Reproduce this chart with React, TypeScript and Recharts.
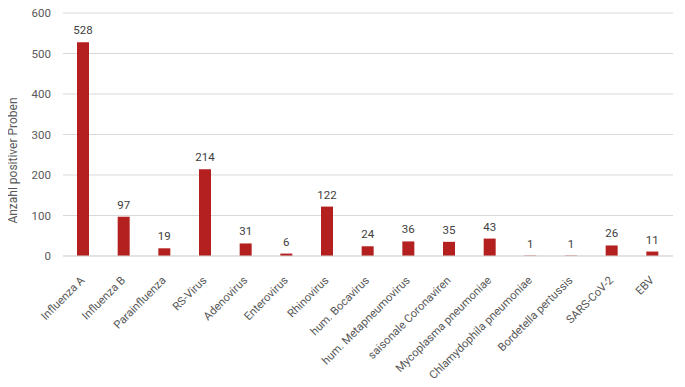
import React from 'react';
import { BarChart, Bar, XAxis, YAxis, CartesianGrid, LabelList, Label } from 'recharts';

const categories = [
  'Influenza A',
  'Influenza B',
  'Parainfluenza',
  'RS-Virus',
  'Adenovirus',
  'Enterovirus',
  'Rhinovirus',
  'hum. Bocavirus',
  'hum. Metapneumovirus',
  'saisonale Coronaviren',
  'Mycoplasma pneumoniae',
  'Chlamydophila pneumoniae',
  'Bordetella pertussis',
  'SARS-CoV-2',
  'EBV',
];
const positives = [528, 97, 19, 214, 31, 6, 122, 24, 36, 35, 43, 1, 1, 26, 11];
const yTicks = [0, 100, 200, 300, 400, 500, 600];

const data = categories.map((name, i) => ({ name, value: positives[i] }));

// schräge Kategorienbeschriftung
const AngledTick = (props: any) => {
  const { x, y, payload } = props;
  return (
    <g transform={`translate(${x + 2},${y + 17})`}>
      <text
        x={0}
        y={0}
        textAnchor="end"
        fill="#595959"
        fontSize={11.3}
        transform="rotate(-45)"
      >
        {payload.value}
      </text>
    </g>
  );
};

const YTitle = (props: any) => {
  const { viewBox } = props;
  const cx = 12.5;
  const cy = viewBox.y + viewBox.height / 2 + 26;
  return (
    <text
      x={cx}
      y={cy}
      transform={`rotate(-90, ${cx}, ${cy})`}
      textAnchor="middle"
      dominantBaseline="central"
      fill="#595959"
      fontSize={12}
    >
      Anzahl positiver Proben
    </text>
  );
};

export default function App() {
  return (
    <div style={{ fontFamily: 'Roboto, sans-serif', margin: '-8px 0 0 -8px' }}>
      <BarChart
        width={685}
        height={387}
        data={data}
        margin={{ top: 13, right: 12, left: 8, bottom: 0 }}
      >
        <CartesianGrid vertical={false} stroke="#d9d9d9" />
        <XAxis
          dataKey="name"
          interval={0}
          height={131}
          axisLine={{ stroke: '#d9d9d9' }}
          tickLine={false}
          tick={<AngledTick />}
        />
        <YAxis
          width={55}
          domain={[0, 600]}
          ticks={yTicks}
          axisLine={false}
          tickLine={false}
          tick={{ fill: '#595959', fontSize: 11.5 }}
          tickMargin={6}
        >
          <Label content={<YTitle />} />
        </YAxis>
        <Bar dataKey="value" fill="#b41f1f" barSize={12} isAnimationActive={false}>
          <LabelList dataKey="value" position="top" offset={8} fill="#404040" fontSize={11.5} />
        </Bar>
      </BarChart>
    </div>
  );
}
